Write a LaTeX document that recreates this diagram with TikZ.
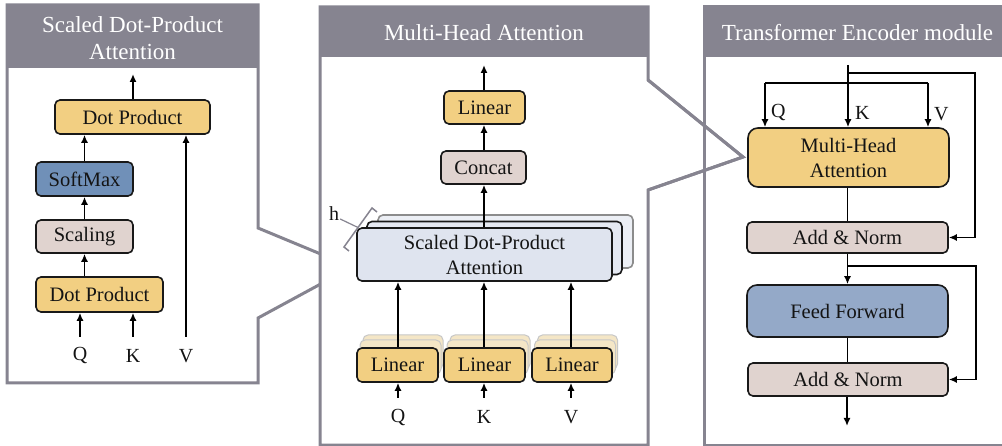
\documentclass[tikz,border=0pt]{standalone}
\usepackage{fontspec}
\setmainfont{Liberation Serif}
\usetikzlibrary{arrows.meta,calc}
\definecolor{pgray}{HTML}{868490}
\definecolor{cyel}{HTML}{F2CF82}
\definecolor{cpink}{HTML}{E0D3CF}
\definecolor{csoft}{HTML}{7090B8}
\definecolor{clb}{HTML}{DFE4EF}
\definecolor{cff}{HTML}{94A9C8}
\definecolor{cpale}{HTML}{F4E6C6}
\begin{document}
\begin{tikzpicture}[x=1pt,y=-1pt,
  box/.style={draw=black!90, line width=1.6pt, rounded corners=5pt, inner sep=0pt,
    align=center, font=\fontsize{20.5}{25}\selectfont, text=black!92},
  ghost/.style={draw=black!22, line width=1pt, rounded corners=5pt, fill=cpale},
  arr/.style={line width=1.6pt, -{Latex[length=8pt,width=7pt]}},
  wire/.style={line width=1.6pt},
  frame/.style={draw=pgray, line width=3pt, fill=white},
  ttl/.style={text=white, align=center, font=\fontsize{23}{27}\selectfont},
  lbl/.style={font=\fontsize{20}{24}\selectfont, text=black!92, inner sep=0pt}]
\useasboundingbox (0,0) rectangle (1002,446);
\clip (0,0) rectangle (1002,446);

% ---- frames with callout wedges ----
\path[frame] (258,228) -- (258,5) -- (7,5) -- (7,383) -- (258,383) -- (258,318) -- (352,267) -- cycle;
\fill[pgray] (7,5) rectangle (258,68);
\path[frame] (648,80) -- (648,7) -- (320,7) -- (320,445) -- (648,445) -- (648,190) -- (743,157) -- cycle;
\fill[pgray] (320,7) rectangle (648,57);
\draw[pgray, line width=3pt] (1010,7) -- (704,7) -- (704,445) -- (1010,445);
\fill[pgray] (704,7) rectangle (1010,57);
\draw[pgray, line width=3pt] (648,80) -- (743,157) -- (648,190);

\node[ttl] (t1) at (132.5,38.5) {Scaled Dot-Product\\Attention};
\node[ttl] (t2) at (484,33) {Multi-Head Attention};
\node[ttl] (t3) at (857.5,33) {Transformer Encoder module};

% ---- Scaled Dot-Product Attention ----
\node[box, fill=cyel, minimum width=155pt, minimum height=34pt] (pdot2) at (132.5,117) {Dot Product};
\node[box, fill=csoft, minimum width=97pt, minimum height=34pt] (soft) at (84.5,179) {SoftMax};
\node[box, fill=cpink, minimum width=97pt, minimum height=33pt] (scal) at (84.5,236.5) {Scaling};
\node[box, fill=cyel, minimum width=127pt, minimum height=35pt] (pdot1) at (99.5,294.5) {Dot Product};
\node[lbl] (q1) at (80,356) {Q};
\node[lbl] (k1) at (133,356) {K};
\node[lbl] (v1) at (186,356) {V};
\coordinate (q1s) at (80,337);
\coordinate (k1s) at (133,337);
\coordinate (v1s) at (186,337);
\coordinate (o1) at (133,74);
\draw[arr] (q1s) -- (q1s |- pdot1.south);
\draw[arr] (k1s) -- (k1s |- pdot1.south);
\draw[arr] (v1s) -- (v1s |- pdot2.south);
\draw[arr] (scal.south |- pdot1.north) -- (scal.south);
\draw[arr] (scal.north) -- (soft.south);
\draw[arr] (soft.north) -- (soft.north |- pdot2.south);
\draw[arr] (o1 |- pdot2.north) -- (o1);

% ---- Multi-Head Attention ----
\node[box, fill=clb!60, draw=black!45, minimum width=255pt, minimum height=53pt] (sdpc) at (505.5,241.5) {};
\node[box, fill=clb!80, minimum width=255pt, minimum height=53pt] (sdpb) at (494.5,248) {};
\node[box, fill=clb, minimum width=255pt, minimum height=53pt] (sdpa) at (484.5,254.5) {Scaled Dot-Product\\Attention};
\node[box, fill=cpink, minimum width=85pt, minimum height=33pt] (concat) at (483.5,167.5) {Concat};
\node[box, fill=cyel, minimum width=81pt, minimum height=33pt] (lin3) at (484.5,107.5) {Linear};
\foreach \n/\cx in {q/397.5, k/484.5, v/572}{
  \path[ghost] (\cx-34.5,345-10) rectangle (\cx+45.5,379-10);
  \path[ghost] (\cx-37.5,345-5) rectangle (\cx+43.5,379-5);
}
\node[box, fill=cyel, minimum width=81pt, minimum height=34pt] (lq) at (397.5,365) {Linear};
\node[box, fill=cyel, minimum width=81pt, minimum height=34pt] (lk) at (484.5,365) {Linear};
\node[box, fill=cyel, minimum width=80pt, minimum height=34pt] (lv) at (572,365) {Linear};
\node[lbl] (q2) at (398,417) {Q};
\node[lbl] (k2) at (484,417) {K};
\node[lbl] (v2) at (571,417) {V};
\coordinate (q2s) at (398,398);
\coordinate (k2s) at (484,398);
\coordinate (v2s) at (571,398);
\coordinate (o2) at (484,65);
\draw[arr] (q2s) -- (q2s |- lq.south);
\draw[arr] (k2s) -- (k2s |- lk.south);
\draw[arr] (v2s) -- (v2s |- lv.south);
\draw[arr] (lq.north -| q2s) -- (q2s |- sdpa.south);
\draw[arr] (lk.north -| k2s) -- (k2s |- sdpa.south);
\draw[arr] (lv.north -| v2s) -- (v2s |- sdpa.south);
\draw[arr] (o2 |- sdpa.north) -- (o2 |- concat.south);
\draw[arr] (o2 |- concat.north) -- (o2 |- lin3.south);
\draw[arr] (lin3.north -| o2) -- (o2);
% head-count bracket
\node[lbl] (hl) at (334,214) {h};
\coordinate (bt) at (372,208);
\coordinate (bb) at (344,247);
\draw[pgray, line width=1.5pt] ($(bt)+(5,4)$) -- (bt) -- (bb) -- ($(bb)+(5,4)$);
\draw[pgray, line width=1.2pt] (hl.east) ++(1,5) -- ($(bt)!0.5!(bb)$);

% ---- Transformer Encoder module ----
\node[box, fill=cyel, rounded corners=10pt, minimum width=201pt, minimum height=59pt] (mha) at (848.5,157.5) {Multi-Head\\Attention};
\node[box, fill=cpink, minimum width=201pt, minimum height=31pt] (an1) at (847.5,237.5) {Add \& Norm};
\node[box, fill=cff, rounded corners=10pt, minimum width=201pt, minimum height=52pt] (ff) at (847.5,311) {Feed Forward};
\node[box, fill=cpink, minimum width=200pt, minimum height=33pt] (an2) at (848,379.5) {Add \& Norm};
\coordinate (in3) at (848,65);
\coordinate (r1) at (848,73);
\coordinate (qt) at (765,83);
\coordinate (vt) at (928,83);
\coordinate (r2) at (847,266);
\coordinate (o3) at (847,426);
\draw[arr] (in3) -- (in3 |- mha.north);
\draw[wire] (qt) -- (vt);
\draw[arr] (qt) -- (qt |- mha.north);
\draw[arr] (vt) -- (vt |- mha.north);
\draw[arr] (r1) -| ([xshift=26pt]an1.east) -- (an1.east);
\draw[wire] (mha.south -| an1.north) -- (an1.north);
\draw[arr] (an1.south) -- (ff.north);
\draw[arr] (r2) -| ([xshift=27pt]an2.east) -- (an2.east);
\draw[wire] (ff.south) -- (ff.south |- an2.north);
\draw[arr] (o3 |- an2.south) -- (o3);
\node[lbl, anchor=west] (q3) at (771,113) {Q};
\node[lbl, anchor=west] (k3) at (855,113) {K};
\node[lbl, anchor=west] (v3) at (934,114) {V};
\end{tikzpicture}
\end{document}
